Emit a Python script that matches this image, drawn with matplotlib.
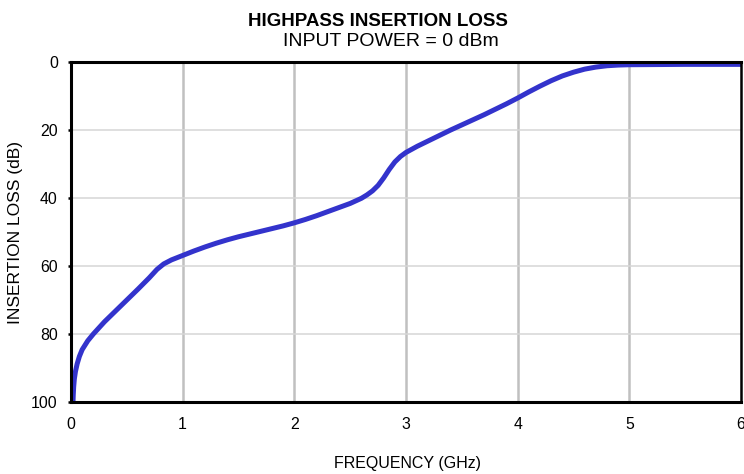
import matplotlib
matplotlib.use("Agg")
import matplotlib.pyplot as plt

plt.rcParams['font.family'] = ['Liberation Sans', 'DejaVu Sans']

# Data
freq_ghz = [0.018, 0.02, 0.024, 0.03, 0.04, 0.055, 0.075, 0.10, 0.15, 0.20, 0.30,
            0.40, 0.50, 0.60, 0.70, 0.77, 0.83, 0.90, 1.00, 1.10, 1.20, 1.30,
            1.40, 1.50, 1.60, 1.70, 1.80, 1.90, 2.00, 2.10, 2.20, 2.30, 2.40,
            2.50, 2.60, 2.65, 2.70, 2.75, 2.80, 2.85, 2.90, 2.95, 3.00, 3.10,
            3.20, 3.30, 3.40, 3.50, 3.60, 3.70, 3.80, 3.90, 4.00, 4.10, 4.20,
            4.30, 4.40, 4.50, 4.60, 4.70, 4.80, 4.90, 5.00, 5.50, 6.00]
loss_db = [100.0, 98.0, 95.5, 93.2, 91.0, 88.8, 86.6, 84.6, 82.0, 80.0, 76.4,
           73.2, 70.0, 66.8, 63.5, 61.0, 59.4, 58.2, 56.9, 55.6, 54.4, 53.3,
           52.3, 51.4, 50.6, 49.8, 49.0, 48.2, 47.3, 46.3, 45.2, 44.0, 42.8,
           41.6, 40.1, 39.1, 37.9, 36.3, 34.1, 31.6, 29.4, 27.8, 26.6, 24.8,
           23.2, 21.6, 20.0, 18.5, 17.0, 15.5, 13.9, 12.3, 10.6, 8.8, 7.1,
           5.5, 4.1, 3.0, 2.1, 1.5, 1.1, 0.9, 0.8, 0.7, 0.7]

x_ticks = [0, 1, 2, 3, 4, 5, 6]
y_ticks = [0, 20, 40, 60, 80, 100]

title = "HIGHPASS INSERTION LOSS"
subtitle = "INPUT POWER = 0 dBm"
x_label = "FREQUENCY (GHz)"
y_label = "INSERTION LOSS (dB)"

W, H = 744, 474
fig = plt.figure(figsize=(W / 100, H / 100), dpi=100)
ax = fig.add_axes([71 / W, 1 - 402 / H, (741 - 71) / W, (402 - 62) / H])

# grids
for xv in x_ticks[1:-1]:
    ax.axvline(xv, color='#c0c0c0', lw=1.8, zorder=1)
for yv in y_ticks[1:-1]:
    ax.axhline(yv, color='#d6d6d6', lw=1.1, zorder=1)

ax.plot(freq_ghz, loss_db, color='#3333cc', lw=3.6, solid_capstyle='butt',
        solid_joinstyle='round', zorder=3, clip_on=False)

ax.set_xlim(0, 6)
ax.set_ylim(100, 0)
ax.set_xticks(x_ticks)
ax.set_yticks(y_ticks)
ax.tick_params(axis='x', length=0, pad=11, labelsize=11.4)
ax.tick_params(axis='y', length=2.5, width=1.8, pad=7, labelsize=11.4,
               direction='out')

for s in ax.spines.values():
    s.set_linewidth(2.2)
    s.set_color('black')
    s.set_zorder(4)
ax.spines['right'].set_linewidth(1.8)

fig.text(408 / W, 1 - 468 / H, x_label, ha='center', va='baseline',
         fontsize=11.5)
fig.text(16 / W, 1 - 232.5 / H, y_label, ha='center', va='center',
         fontsize=12.5, rotation=90)

fig.text(378 / W, 1 - 26.5 / H, title, ha='center', va='baseline',
         fontsize=13.5, fontweight='bold')
fig.text(390.5 / W, 1 - 46 / H, subtitle, ha='center', va='baseline',
         fontsize=14)

fig.savefig("out.png", dpi=100)
